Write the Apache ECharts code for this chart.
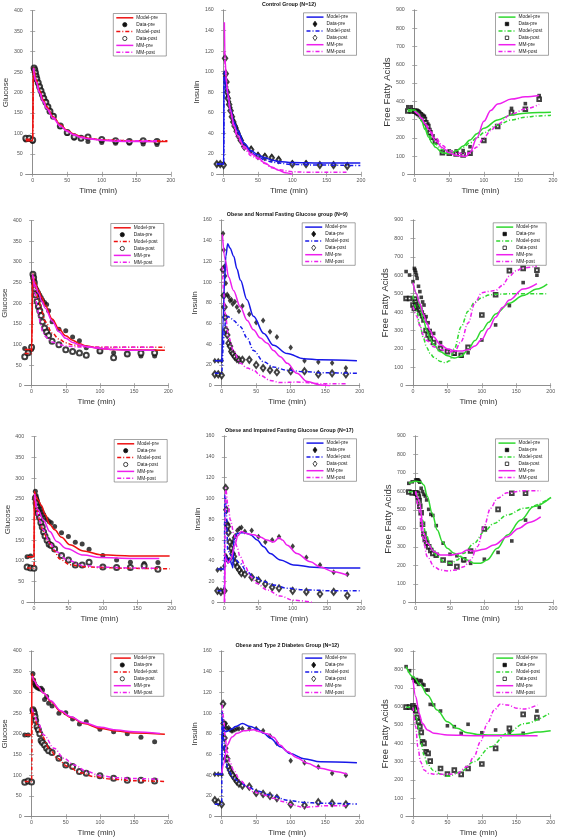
<!DOCTYPE html>
<html><head><meta charset="utf-8">
<script src="https://cdn.jsdelivr.net/npm/echarts@6/dist/echarts.min.js"></script>
<style>html,body{margin:0;padding:0;background:#fff}#c{width:561px;height:840px}</style>
</head><body><div id="c"></div>
<script>
// ---------------- DATA ----------------
const sampleTimes = [-10,-5,0,2,3,4,5,6,8,10,12,14,16,19,22,25,30,40,50,60,70,80,100,120,140,160,180];
const xTickValues = [0,50,100,150,200];
const legendNames = ['Model-pre','Data-pre','Model-post','Data-post','MM-pre','MM-post'];
const groupTitles = ['Control Group (N=12)','Obese and Normal Fasting Glucose group (N=9)','Obese and Impaired Fasting Glucose Group (N=17)','Obese and Type 2 Diabetes Group (N=12)'];

// Row 1: Control group
const gluCtrlDataPre  = [84,85,80,258,250,245,238,230,222,213,205,196,188,178,166,155,143,117,100,88,88,80,78,76,76,74,73];
const gluCtrlDataPost = [88,88,84,260,255,248,240,233,224,214,204,195,186,176,165,154,142,118,102,92,88,91,85,82,80,82,80];
const gluCtrlModelPre = [[-10,82],[0,82],[1,258],[5,232],[10,205],[15,183],[20,166],[30,140],[40,121],[50,107],[60,98],[70,92],[80,88],[100,84],[120,82],[150,81],[195,80]];
const gluCtrlModelPost= [[-10,86],[0,86],[1,260],[5,230],[10,203],[15,181],[20,164],[30,139],[40,120],[50,106],[60,97],[70,91],[80,88],[100,84],[120,83],[150,82],[195,82]];
const gluCtrlMMPre    = [[1,258],[5,226],[10,199],[15,178],[20,161],[30,136],[40,118],[50,105],[60,96],[70,90],[80,87],[100,83],[120,81],[150,80],[180,80]];
const gluCtrlMMPost   = [[1,260],[5,228],[10,201],[15,180],[20,163],[30,138],[40,119],[50,106],[60,97],[70,91],[80,88],[100,84],[120,83],[150,82],[180,82]];

const insCtrlDataPre  = [10,10,10,95,89,85,82,76,71,65,58,53,49,45,40,35,28,25,19,18,17,15,11,11,9,9,9];
const insCtrlDataPost = [10,10,9,113,98,90,80,74,68,62,56,51,47,42,37,33,27,24,18,17,16,14,10,10,9,9,8];
const insCtrlModelPre = [[-10,10],[0,10],[0.5,95],[2,92],[5,80],[10,63],[15,51],[20,43],[30,30],[40,23],[50,19],[60,16],[70,14],[80,12.5],[100,11.5],[140,11],[199,11]];
const insCtrlModelPost= [[-10,10],[0,10],[0.5,100],[2,97],[5,82],[10,62],[15,49],[20,41],[30,28],[40,21],[50,17],[60,14],[70,12],[80,11],[100,9.5],[140,9],[199,8.5]];
const insCtrlMMPre    = [[1,148],[2,112],[4,90],[6,78],[10,62],[15,48],[20,38],[30,27],[40,20],[50,16],[60,11],[70,7],[80,4],[90,1.5],[100,0]];
const insCtrlMMPost   = [[1,120],[3,100],[5,84],[10,60],[15,46],[20,36],[30,25],[40,18],[50,15],[60,10.5],[70,6.5],[80,4.5],[100,2.5],[120,2],[150,2],[180,2]];

const ffaCtrlDataPre  = [370,370,347,345,342,340,338,336,332,328,322,318,280,275,245,200,185,120,128,128,130,151,188,265,361,387,431];
const ffaCtrlDataPost = [347,347,347,345,343,340,336,333,326,318,310,300,282,262,228,205,180,119,115,111,106,115,185,262,338,356,411];
const ffaCtrlModelPre = [[-10,355],[0,352],[5,335],[10,290],[15,245],[20,205],[25,172],[30,148],[40,118],[50,113],[60,128],[70,155],[80,188],[90,222],[100,252],[120,298],[140,325],[160,335],[180,339],[197,340]];
const ffaCtrlModelPost= [[-10,345],[0,345],[5,335],[10,300],[15,260],[20,222],[25,190],[30,165],[40,135],[50,125],[60,130],[70,148],[80,172],[90,200],[100,228],[120,270],[140,298],[160,313],[180,320],[197,324]];
const ffaCtrlMMPre    = [[0,345],[5,330],[10,305],[15,275],[20,245],[30,185],[40,145],[50,118],[60,104],[70,99],[75,100],[80,120],[90,200],[100,290],[110,350],[120,385],[140,412],[160,425],[180,432]];
const ffaCtrlMMPost   = [[0,345],[5,332],[10,310],[15,282],[20,255],[30,200],[40,158],[50,130],[60,118],[70,112],[80,118],[90,150],[100,200],[110,240],[120,275],[140,330],[160,358],[180,383]];

// Row 2: Obese, normal fasting glucose
const gluNfgDataPre  = [90,82,88,268,265,255,245,238,232,226,220,214,208,202,197,182,155,137,133,118,109,92,83,80,77,72,72];
const gluNfgDataPost = [70,80,93,270,262,250,235,220,205,192,182,170,155,140,130,122,108,99,87,83,79,74,84,68,77,79,80];
const gluNfgModelPre = [[-10,88],[0,88],[2,265],[5,250],[10,232],[15,214],[20,195],[30,162],[40,138],[50,121],[60,110],[70,102],[80,96],[100,90],[120,87.5],[150,86.5],[195,86]];
const gluNfgModelPost= [[-10,78],[0,78],[1.5,272],[5,240],[10,210],[15,180],[20,155],[30,128],[40,113],[50,104],[60,99],[70,96],[80,94.5],[100,93.5],[150,93],[195,93]];
const gluNfgMMPre    = [[2,265],[5,245],[10,225],[15,205],[20,188],[30,157],[40,131],[50,115],[60,105],[70,99],[80,95],[100,90],[120,87.5],[150,86],[180,86]];
const gluNfgMMPost   = [[1.5,270],[3,250],[5,225],[8,195],[10,175],[13,150],[16,132],[20,120],[25,112],[30,106],[40,100],[50,96],[70,94],[100,93],[150,93],[180,93]];

const insNfgDataPre  = [24,24,24,147,131,115,106,99,88,86,82,83,79,81,76,72,77,69,61,63,52,47,37,24,23,22,17];
const insNfgDataPost = [11,11,10,112,87,76,66,54,49,41,38,33,31,28,26,25,25,25,20,17,15,13,14,14,11,12,11];
const insNfgModelPre = [[-10,24],[0,24],[2,60],[4,100],[6,125],[8.7,137],[12,133],[17.4,125],[22,113],[27,102],[36.7,83],[46,67],[61,50.5],[75,39],[95,31],[119,26],[143,25],[196,24]];
const insNfgModelPost= [[-10,12],[0,12],[2,35],[4,55],[6,64],[8.7,67],[12,66],[17,63],[27,57],[37,46],[46,34],[61,23],[75,18],[95,15],[119,13.5],[150,12.5],[196,12]];
const insNfgMMPre    = [[1,146],[5.3,121],[10,105],[17,92],[27,76],[37,63],[46,54],[56,46],[66,41],[75,34],[85,28],[95,21.6],[109,12],[124,4],[143,0.6],[157,0]];
const insNfgMMPost   = [[1,115],[3,89],[5,70],[10,47],[17,34],[27,21.6],[37,17],[46,15],[56,10],[70.5,5],[85,3],[109,3.5],[143,2],[182,2]];

const ffaNfgDataPre  = [620,601,565,637,628,615,600,583,540,511,480,455,438,375,342,300,284,234,188,172,161,179,248,330,435,560,600];
const ffaNfgDataPost = [474,474,438,420,470,455,440,430,420,411,395,380,357,300,275,255,235,203,185,176,165,208,384,494,625,637,628];
const ffaNfgModelPre = [[0,560],[5,500],[10,430],[15,360],[20,300],[25,255],[30,222],[40,185],[50,163],[60,150],[70,160],[80,195],[90,245],[100,298],[110,345],[120,390],[140,448],[160,490],[180,525],[195,552]];
const ffaNfgModelPost= [[0,490],[5,410],[10,330],[15,260],[20,208],[25,175],[30,155],[40,132],[47,125],[53,135],[60,200],[70,320],[80,405],[90,455],[100,478],[110,492],[120,497],[150,500],[195,500]];
const ffaNfgMMPre    = [[0,560],[5,500],[10,445],[15,390],[20,340],[25,300],[30,265],[40,222],[50,200],[60,190],[70,188],[80,195],[90,215],[100,252],[110,310],[120,372],[130,425],[140,465],[160,525],[180,555]];
const ffaNfgMMPost   = [[0,430],[5,380],[10,325],[15,275],[20,245],[30,212],[40,197],[50,185],[60,185],[70,240],[80,340],[90,450],[100,505],[110,512],[120,518],[130,545],[140,595],[150,625],[160,640],[180,650]];

// Row 3: Obese, impaired fasting glucose
const gluIfgDataPre  = [110,112,null,268,258,250,245,238,232,225,218,212,205,200,195,192,183,168,159,145,141,128,113,102,97,94,96];
const gluIfgDataPost = [85,83,82,252,240,230,222,215,205,192,182,170,160,150,140,137,129,113,102,90,90,97,85,84,84,88,80];
const gluIfgModelPre = [[-10,110],[0,110],[0.5,268],[3,255],[6,247],[11,233],[16,212],[23,188],[30,175],[40,157],[52,139],[72,124],[96,115],[120,113],[144,112],[197,112]];
const gluIfgModelPost= [[-10,83],[0,83],[1,255],[4,227],[8.7,195],[13.6,171],[21,146],[28,127],[38,104],[52,91],[72,86],[96,84],[144,82],[197,81]];
const gluIfgMMPre    = [[1,255],[6,223],[13.6,199],[23,171],[33,147],[47,130],[72,114],[96,108],[144,106],[182,106]];
const gluIfgMMPost   = [[1,262],[6,205],[13.6,175],[23,143],[33,122],[47,103],[72,89],[96,85],[140,83],[182,82]];

const insIfgDataPre  = [31,32,35,45,43,42,40,40,41,52,58,62,64,69,71,72,68,69,63,58,60,63,54,43,36,29,27];
const insIfgDataPost = [11,10,11,110,89,75,73,67,58,52,47,44,38,34,31,28,27,24,21,17.6,14.4,13.5,11,10,8,10,6.5];
const insIfgModelPre = [[-10,32],[0,32],[1,45],[3,44],[5,38],[8,42],[11,36],[12.5,33],[14,60],[18,66],[25,67],[30,67],[38,65],[48,60],[57.6,53.5],[67,47],[82,40.7],[101,36],[131,33.7],[160,33],[199,33]];
const insIfgModelPost= [[-10,11],[0,11],[0.7,103],[2,98],[3,86],[5,50],[10,45],[17,40.7],[23,37.5],[33,29.5],[43,24.7],[57.6,20],[72,16.7],[92,13.5],[116,12],[160,11],[199,11]];
const insIfgMMPre    = [[0,0],[1.5,43],[3,41],[6,38],[10,42],[15,55],[20,64],[25,68],[33,66],[43,65],[53,62.5],[62,60],[72,58],[80,62],[85,60],[92,55],[106,47],[126,39],[140,34],[160,29.5],[180,26]];
const insIfgMMPost   = [[0.5,0],[1,60],[2,110],[5,95],[9,79],[14,66],[18.5,53.5],[23,44],[31,34],[38,25],[48,18],[62,12],[82,6],[101,2],[128,0]];

const ffaIfgDataPre  = [644,652,662,662,663,660,655,650,617,599,584,575,554,503,476,470,415,320,260,252,225,211,233,270,332,445,514];
const ffaIfgDataPost = [597,592,593,590,585,570,550,520,485,422,370,340,320,300,280,265,255,229,211,193,230,278,397,503,590,590,null];
const ffaIfgModelPre = [[-10,645],[0,655],[7,653],[12,635],[17,572],[24,482],[31.5,391],[39,328],[46,292],[56,265],[65.5,247],[75,229],[85,211],[94.7,211],[104,229],[119,292],[133.5,364],[153,445],[172,518],[197,568]];
const ffaIfgModelPost= [[-10,597],[0,600],[5,554],[10,445],[14.6,373],[22,301],[31.5,247],[41,220],[51,211],[60.7,229],[70,265],[85,319],[99.5,382],[114,427],[133.5,473],[158,509],[197,566]];
const ffaIfgMMPre    = [[0,600],[5,554],[12,373],[17,319],[27,274],[36,256],[51,256],[65.5,265],[75,283],[85,277],[99.5,287],[114,310],[133.5,355],[150,400],[165,432],[182,462]];
const ffaIfgMMPost   = [[0,600],[5,500],[10,355],[17,247],[27,193],[36,175],[46,170],[60.7,175],[70,193],[80,229],[90,301],[99.5,409],[109,509],[119,563],[133.5,593],[158,604],[182,604]];

// Row 4: Obese, type 2 diabetes
const gluT2dDataPre  = [197,197,null,345,330,322,318,315,312,310,308,310,306,283,290,274,267,250,251,236,224,229,211,205,200,192,181];
const gluT2dDataPost = [83,86,84,258,254,250,242,232,217,210,200,184,179,173,165,159,155,141,125,121,109,105,99,93,88,88,86];
const gluT2dModelPre = [[-10,197],[0,197],[0.5,345],[4,330],[8.7,314],[18,298],[28,278],[42.6,254],[57,240],[76.5,225],[100.7,213],[125,207],[149,202],[195,199]];
const gluT2dModelPost= [[-10,85],[0,85],[1,258],[4,240],[8.7,221],[16,193],[25.7,165],[37.8,141],[52,122],[71.7,106],[91,97],[115,91],[149,87],[195,85]];
const gluT2dMMPre    = [[1,340],[4,328],[8.7,316],[18,298],[28,280],[42.6,256],[57,241],[76.5,227],[100.7,216],[125,209],[149,205],[188,201]];
const gluT2dMMPost   = [[1,261],[4,245],[8.7,229],[18,197],[33,165],[47.5,141],[62,125],[81,109],[100.7,99],[125,94],[149,92],[188,90]];

const insT2dDataPre  = [41,41,41,79,85,89,87,90,85,86,84,83,83,84,85,85,85,85,85,83,78,71,54,52,48,42,40];
const insT2dDataPost = [16,14,12,109,90,76,66,56,56,48,45,42,40,37,34,32,30,29,23,22,20,18,12,11,14,13,12];
const insT2dModelPre = [[-10,41],[0,41],[1,86],[2.5,87],[5,82],[10,83],[15,85],[20,87],[30,90],[41.5,87],[51,85],[61,80.5],[70.5,75.7],[85,67.6],[99.5,61],[119,56],[143,53],[196,52]];
const insT2dModelPost= [[-10,12],[0,12],[0.5,102],[3,74],[5,55],[10,44],[17,37],[27,33],[37,29],[51,25],[70.5,21],[95,16],[119,13.8],[143,13],[196,12.2]];
const insT2dMMPre    = [[0,42],[3,51],[7.7,69],[15,77],[22,80.5],[32,83],[46,84],[56,82],[66,80],[75,76.6],[85,69],[95,63],[109,57],[124,51.5],[143,46.7],[167,43.5],[182,41]];
const insT2dMMPost   = [[0.5,108],[3,95],[5,77],[7.7,63],[12.6,51.5],[17,45],[27,35],[37,29],[46,24],[61,21],[75,17.7],[90,14.5],[104,11],[119,9],[133,9.7],[153,10.6],[182,10.6]];

const ffaT2dDataPre  = [815,793,752,740,735,740,745,730,719,740,737,719,715,688,688,610,607,574,494,489,453,502,456,471,456,453,574];
const ffaT2dDataPost = [595,595,603,590,590,580,575,540,516,489,458,407,398,353,344,302,null,262,232,253,230,262,286,371,480,556,538];
const ffaT2dModelPre = [[-10,815],[0,760],[11,715],[21,661],[35,580],[50,516],[64,480],[79,456],[93.5,447],[113,444],[137,444],[161,449],[181,460],[200,467]];
const ffaT2dModelPost= [[-10,595],[0,595],[3,590],[6,525],[11,416],[16,335],[21,285],[30,250],[40,232],[52,220],[69,244],[88.6,299],[113,380],[137,453],[161,505],[200,565]];
const ffaT2dMMPre    = [[0,745],[4,652],[9,561],[13.6,507],[21,471],[30.5,453],[50,444],[88.6,440],[137,440],[181,440]];
const ffaT2dMMPost   = [[0,594],[4,489],[7,380],[11,299],[16,254],[23,235],[35,230],[50,230],[64,235],[79,272],[88.6,326],[98,407],[108,507],[118,579],[127,612],[137,607],[151.6,589],[161,585],[181,607]];

// ---------------- LAYOUT / STYLE ----------------
const W = 561;
const gridRects = [
  [25.8,10.7,145,163.6],[216.8,10,144.2,164.3],[407.8,10,145.2,164.3],
  [23.8,220.7,144.5,165],[214.8,220,144.9,165.7],[406.1,220,144.6,165.7],
  [27.1,436.7,144.6,165.6],[217.5,436,143.5,166.3],[408.8,436,144.2,166.3],
  [23.8,651,144.5,165.7],[214.8,651,144.9,165.7],[406.1,651,144.6,165.7]
];
const kinds = {
  glu: {yName:'Glucose', yMax:400, yInt:50, color:'#ee1111', sym:'circle', symE:'emptyCircle', size:5, nameSize:8, nameGap:11},
  ins: {yName:'Insulin', yMax:160, yInt:20, color:'#1818e8', sym:'diamond', symE:'emptyDiamond', size:[4.5,6], nameSize:8, nameGap:10.5},
  ffa: {yName:'Free Fatty Acids', yMax:900, yInt:100, color:'#2fd82f', sym:'rect', symE:'emptyRect', size:3.6, nameSize:9.5, nameGap:12.5}
};
const MAG = '#ee1fee';
const panels = [
  ['glu',gluCtrlModelPre,gluCtrlDataPre,gluCtrlModelPost,gluCtrlDataPost,gluCtrlMMPre,gluCtrlMMPost],
  ['ins',insCtrlModelPre,insCtrlDataPre,insCtrlModelPost,insCtrlDataPost,insCtrlMMPre,insCtrlMMPost],
  ['ffa',ffaCtrlModelPre,ffaCtrlDataPre,ffaCtrlModelPost,ffaCtrlDataPost,ffaCtrlMMPre,ffaCtrlMMPost],
  ['glu',gluNfgModelPre,gluNfgDataPre,gluNfgModelPost,gluNfgDataPost,gluNfgMMPre,gluNfgMMPost],
  ['ins',insNfgModelPre,insNfgDataPre,insNfgModelPost,insNfgDataPost,insNfgMMPre,insNfgMMPost],
  ['ffa',ffaNfgModelPre,ffaNfgDataPre,ffaNfgModelPost,ffaNfgDataPost,ffaNfgMMPre,ffaNfgMMPost],
  ['glu',gluIfgModelPre,gluIfgDataPre,gluIfgModelPost,gluIfgDataPost,gluIfgMMPre,gluIfgMMPost],
  ['ins',insIfgModelPre,insIfgDataPre,insIfgModelPost,insIfgDataPost,insIfgMMPre,insIfgMMPost],
  ['ffa',ffaIfgModelPre,ffaIfgDataPre,ffaIfgModelPost,ffaIfgDataPost,ffaIfgMMPre,ffaIfgMMPost],
  ['glu',gluT2dModelPre,gluT2dDataPre,gluT2dModelPost,gluT2dDataPost,gluT2dMMPre,gluT2dMMPost],
  ['ins',insT2dModelPre,insT2dDataPre,insT2dModelPost,insT2dDataPost,insT2dMMPre,insT2dMMPost],
  ['ffa',ffaT2dModelPre,ffaT2dDataPre,ffaT2dModelPost,ffaT2dDataPost,ffaT2dMMPre,ffaT2dMMPost]
];

const FONT = 'Liberation Sans, Arial, Helvetica, sans-serif';
const AX = '#8a8a8a';
const DASHDOT = [4,2,1,2];
const LW = 1.5;

function pairs(vals){ const out=[]; sampleTimes.forEach((t,i)=>{ if(vals[i]!=null) out.push([t, vals[i]]); }); return out; }

// legend drawn as graphic (box, line samples, markers, labels)
function legendGraphic(k, gl, gt, gw) {
  const bw = 53, bh = 42.5, rowH = 6.9;
  const bx = gl + gw - 4.5 - bw, by = gt + 2.8;
  const els = [{type:'rect', shape:{x:bx, y:by, width:bw, height:bh}, style:{fill:'#fff', stroke:'#666', lineWidth:0.6}, z:100}];
  const x1 = bx + 3, x2 = bx + 20, xm = (x1 + x2) / 2;
  const marker = (cx, cy, filled) => {
    const fill = filled ? '#111' : '#fff';
    const st = {fill, stroke:'#111', lineWidth:0.8};
    if (k.sym === 'circle') return {type:'circle', shape:{cx, cy, r:2.1}, style:st, z:101};
    if (k.sym === 'diamond') return {type:'polygon', shape:{points:[[cx,cy-2.8],[cx+2,cy],[cx,cy+2.8],[cx-2,cy]]}, style:st, z:101};
    return {type:'rect', shape:{x:cx-1.7, y:cy-1.7, width:3.4, height:3.4}, style:st, z:101};
  };
  legendNames.forEach((n, j) => {
    const cy = by + 4.3 + j * rowH;
    if (j === 1 || j === 3) {
      els.push(marker(xm, cy, j === 1));
    } else {
      const color = j < 4 ? k.color : MAG;
      const st = {stroke:color, lineWidth:LW};
      if (j === 2 || j === 5) st.lineDash = DASHDOT;
      els.push({type:'line', shape:{x1, y1:cy, x2, y2:cy}, style:st, z:101});
    }
    els.push({type:'text', x:x2 + 3, y:cy, style:{text:n, fontSize:4.8, fontFamily:FONT, fill:'#222', verticalAlign:'middle', align:'left'}, z:101});
  });
  return els;
}

const grid=[], xAxis=[], yAxis=[], series=[], title=[], graphic=[];
panels.forEach((p, i) => {
  const k = kinds[p[0]];
  const [gl, gt, gw, gh] = gridRects[i];
  grid.push({left:gl, top:gt, width:gw, height:gh, containLabel:false});
  const tickStyle = {inside:true, length:2.5, lineStyle:{color:AX, width:0.7}};
  const lineSt = {show:true, lineStyle:{color:AX, width:0.8}};
  xAxis.push({gridIndex:i, type:'value', min:-10, max:200, position:'bottom',
    axisLine:lineSt, axisTick:Object.assign({customValues:xTickValues}, tickStyle),
    axisLabel:{customValues:xTickValues, fontSize:5.3, color:'#555', margin:3.5, fontFamily:FONT},
    splitLine:{show:false},
    name:'Time (min)', nameLocation:'middle', nameGap:12.5,
    nameTextStyle:{fontSize:8, color:'#333', fontFamily:FONT}});
  xAxis.push({gridIndex:i, type:'value', min:-10, max:200, position:'top',
    axisLine:lineSt, axisTick:Object.assign({customValues:xTickValues}, tickStyle),
    axisLabel:{show:false, customValues:xTickValues}, splitLine:{show:false}});
  yAxis.push({gridIndex:i, type:'value', min:0, max:k.yMax, interval:k.yInt, position:'left',
    axisLine:lineSt, axisTick:tickStyle,
    axisLabel:{fontSize:5.3, color:'#555', margin:3, fontFamily:FONT}, splitLine:{show:false},
    name:k.yName, nameLocation:'middle', nameGap:k.nameGap,
    nameTextStyle:{fontSize:k.nameSize, color:'#333', fontFamily:FONT}});
  yAxis.push({gridIndex:i, type:'value', min:0, max:k.yMax, interval:k.yInt, position:'right',
    axisLine:lineSt, axisTick:tickStyle, axisLabel:{show:false}, splitLine:{show:false}});

  const xi = 2*i, yi = 2*i;
  const lineSeries = (j, d, color, dashed) => ({
    type:'line', name:legendNames[j], xAxisIndex:xi, yAxisIndex:yi, data:d, symbol:'none',
    smooth:0.35, smoothMonotone:'x', silent:true, animation:false,
    lineStyle:{color, width:LW, type: dashed ? DASHDOT : 'solid'}, itemStyle:{color}
  });
  const scatterSeries = (j, vals, sym) => ({
    type:'scatter', name:legendNames[j], xAxisIndex:xi, yAxisIndex:yi, data:pairs(vals),
    symbol:sym, symbolSize:k.size, silent:true, animation:false,
    itemStyle: sym.startsWith('empty') ? {color:'#111', borderColor:'#111', borderWidth:0.8} : {color:'#111'}
  });
  series.push(lineSeries(0, p[1], k.color, false));
  series.push(scatterSeries(1, p[2], k.sym));
  series.push(lineSeries(2, p[3], k.color, true));
  series.push(scatterSeries(3, p[4], k.symE));
  series.push(lineSeries(4, p[5], MAG, false));
  series.push(lineSeries(5, p[6], MAG, true));

  legendGraphic(k, gl, gt, gw).forEach(e => graphic.push(e));

  if (i % 3 === 1) {
    title.push({text: groupTitles[(i-1)/3], left: gl + gw/2, top: gt - 7.5, textAlign:'center',
      textStyle:{fontSize:5.3, fontWeight:'bold', color:'#111', fontFamily:FONT}, padding:0});
  }
});

const chart = echarts.init(document.getElementById('c'), null, {renderer:'canvas'});
chart.setOption({animation:false, backgroundColor:'#fff', grid, xAxis, yAxis, series, title, graphic});
</script>
</body></html>
